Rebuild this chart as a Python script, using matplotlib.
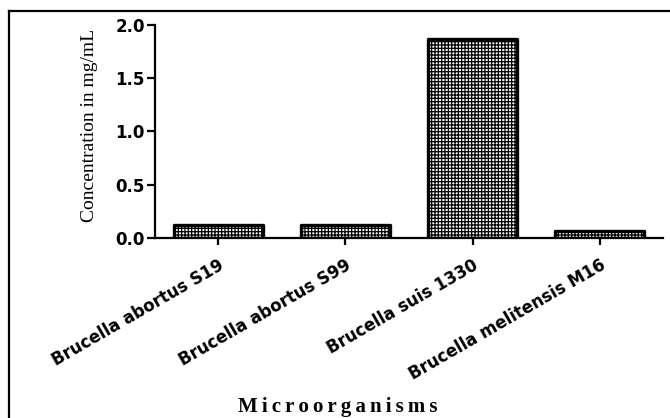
import matplotlib.pyplot as plt
from matplotlib.lines import Line2D

# concentration of each strain (mg/mL)
strains = ['Brucella abortus S19', 'Brucella abortus S99', 'Brucella suis 1330', 'Brucella melitensis M16']
concentration = [0.12, 0.12, 1.87, 0.06]
yticks = [0.0, 0.5, 1.0, 1.5, 2.0]

plt.rcParams['hatch.linewidth'] = 0.9

fig = plt.figure(figsize=(6.7, 4.18), dpi=100)
ax = fig.add_axes([0.231, 0.431, 0.759, 0.51])

x = list(range(len(strains)))
ax.bar(x, concentration, width=0.70, color='white', edgecolor='black',
       linewidth=2.4, hatch='+++++', joinstyle='round')

ax.set_xlim(-0.5, 3.5)
ax.set_ylim(0, 2.0)
ax.set_yticks(yticks)
ax.set_yticklabels(['%.1f' % v for v in yticks], fontfamily='DejaVu Sans',
                   fontweight='bold', fontsize=12)
ax.set_xticks(x)
ax.set_xticklabels(strains, rotation=30, ha='right', va='top', rotation_mode='anchor',
                   fontfamily='DejaVu Sans', fontweight='bold', fontsize=12)

for side in ['top', 'right']:
    ax.spines[side].set_visible(False)
for side in ['left', 'bottom']:
    ax.spines[side].set_linewidth(1.6)
ax.tick_params(axis='y', width=1.6, length=6, direction='out', pad=1)
ax.tick_params(axis='x', width=1.6, length=5, direction='out', pad=8)

fig.text(90 / 670, 1 - 125 / 418, 'Concentration in mg/mL', rotation=90,
         fontfamily='Liberation Serif', fontsize=14, ha='center', va='center')
fig.text(0.504, 0.014, '\u2009'.join('Microorganisms'),
         fontfamily=['Liberation Serif', 'DejaVu Serif'],
         fontweight='bold', fontsize=15, ha='center', va='baseline')

# outer frame (left and top edges only)
fig.add_artist(Line2D([0.0127, 0.0127], [0.0, 0.973], color='black', linewidth=1.6,
                      transform=fig.transFigure))
fig.add_artist(Line2D([0.0127, 1.0], [0.973, 0.973], color='black', linewidth=1.6,
                      transform=fig.transFigure))

fig.savefig('out.png', dpi=100)
